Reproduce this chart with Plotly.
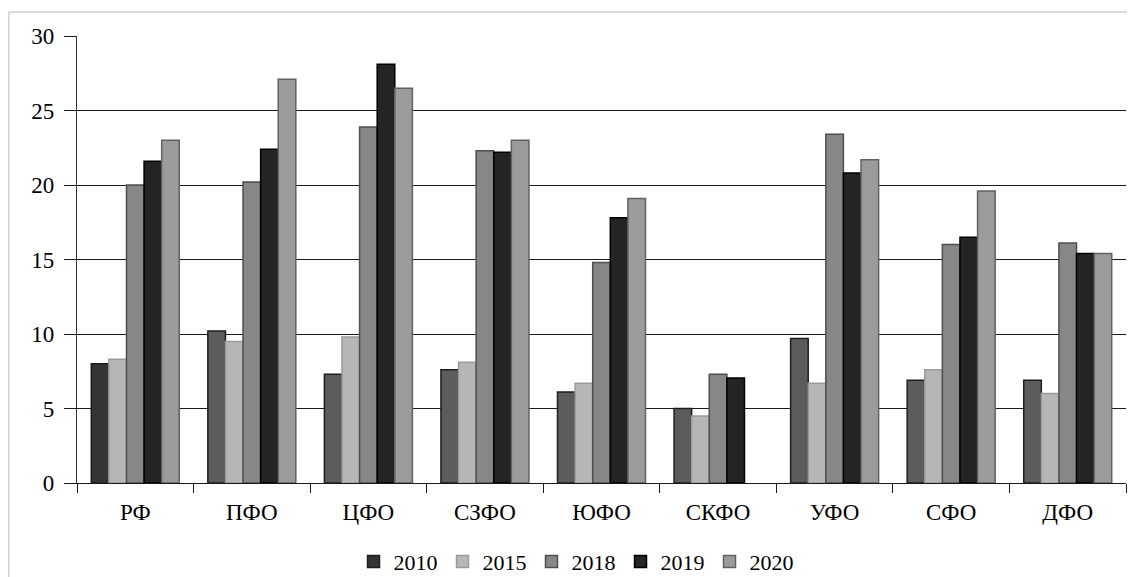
import plotly.graph_objects as go

categories = ["РФ", "ПФО", "ЦФО", "СЗФО", "ЮФО", "СКФО", "УФО", "СФО", "ДФО"]
years = ["2010", "2015", "2018", "2019", "2020"]
v2010 = [8.0, 10.2, 7.3, 7.6, 6.1, 5.0, 9.7, 6.9, 6.9]
v2015 = [8.3, 9.5, 9.8, 8.1, 6.7, 4.5, 6.7, 7.6, 6.0]
v2018 = [20.0, 20.2, 23.9, 22.3, 14.8, 7.3, 23.4, 16.0, 16.1]
v2019 = [21.6, 22.4, 28.1, 22.2, 17.8, 7.05, 20.8, 16.5, 15.4]
v2020 = [23.0, 27.1, 26.5, 23.0, 19.1, None, 21.7, 19.6, 15.4]
series = [v2010, v2015, v2018, v2019, v2020]

fills = ["#5c5c5c", "#b6b6b6", "#878787", "#242424", "#9b9b9b"]
edges = ["#1e1e1e", "#9a9a9a", "#4e4e4e", "#000000", "#626262"]

FONT = "Liberation Serif"

# page has an 8px body margin, so figure is drawn at (8, 8)
W, H = 1127, 569
ML, MT, MR, MB = 69, 28, 9, 94
PW = W - ML - MR
PH = H - MT - MB

fig = go.Figure()
for yr, vals, fc, ec in zip(years, series, fills, edges):
    colors = [fc] * len(categories)
    if yr == "2010":
        colors[0] = "#343434"
    fig.add_trace(go.Bar(
        name=yr, x=categories, y=vals,
        marker=dict(color=colors, line=dict(color=ec, width=1.5)),
    ))

fx = (0.8 - ML) / PW
fy = (PH + MT - 4) / PH

fig.update_layout(
    width=W, height=H,
    margin=dict(l=ML, r=MR, t=MT, b=MB),
    paper_bgcolor="white", plot_bgcolor="white",
    barmode="group", bargap=0.245, bargroupgap=0,
    font=dict(family=FONT, size=23, color="#000"),
    showlegend=True,
    legend=dict(
        orientation="h", xref="container", yref="container",
        x=0.504, xanchor="center", y=0.027, yanchor="middle",
        font=dict(family=FONT, size=22, color="#000"),
        itemwidth=30, tracegroupgap=0,
    ),
    shapes=[
        dict(type="line", xref="paper", yref="paper",
             x0=fx, x1=1.2, y0=fy, y1=fy,
             line=dict(color="#cfcfcf", width=1.5)),
        dict(type="line", xref="paper", yref="paper",
             x0=fx, x1=fx, y0=fy, y1=-0.4,
             line=dict(color="#cfcfcf", width=1.5)),
    ],
)

fig.update_yaxes(
    range=[0, 30], dtick=5, tick0=0,
    showgrid=True, gridcolor="#1a1a1a", gridwidth=1.3,
    showline=True, linecolor="#333", linewidth=1.3,
    ticks="outside", ticklen=12, tickcolor="#1a1a1a", tickwidth=1.3,
    ticklabelstandoff=5,
    zeroline=False,
    tickfont=dict(family=FONT, size=23, color="#000"),
)
fig.update_xaxes(
    showline=True, linecolor="#1a1a1a", linewidth=1.3,
    ticks="outside", tickson="boundaries", ticklen=9,
    tickcolor="#1a1a1a", tickwidth=1.3,
    ticklabelstandoff=8,
    tickfont=dict(family=FONT, size=23, color="#000"),
)

fig.write_html("out.html")
